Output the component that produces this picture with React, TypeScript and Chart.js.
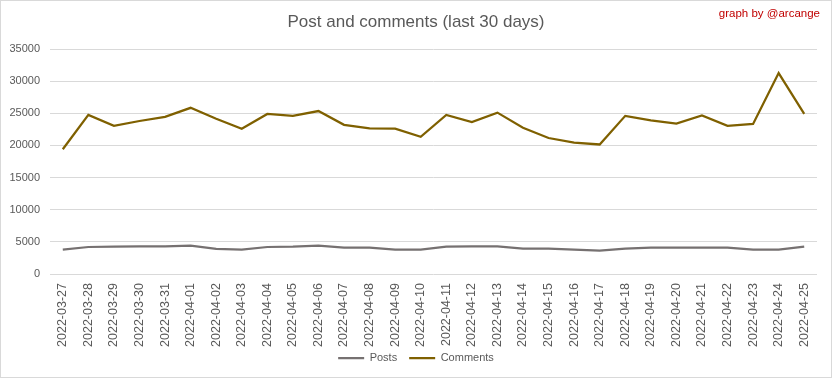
import React, { useEffect, useRef } from "react";
import { Chart, registerables } from "chart.js";

Chart.register(...registerables);

const dates = [
  "2022-03-27", "2022-03-28", "2022-03-29", "2022-03-30", "2022-03-31",
  "2022-04-01", "2022-04-02", "2022-04-03", "2022-04-04", "2022-04-05",
  "2022-04-06", "2022-04-07", "2022-04-08", "2022-04-09", "2022-04-10",
  "2022-04-11", "2022-04-12", "2022-04-13", "2022-04-14", "2022-04-15",
  "2022-04-16", "2022-04-17", "2022-04-18", "2022-04-19", "2022-04-20",
  "2022-04-21", "2022-04-22", "2022-04-23", "2022-04-24", "2022-04-25",
];

const posts = [
  3800, 4200, 4250, 4300, 4300, 4400, 3900, 3800, 4200, 4250,
  4400, 4100, 4100, 3800, 3800, 4250, 4300, 4300, 3950, 3950,
  3800, 3650, 3950, 4100, 4100, 4100, 4100, 3800, 3800, 4250,
];

const comments = [
  19400, 24750, 23050, 23800, 24450, 25850, 24150, 22600, 24900, 24600,
  25350, 23200, 22650, 22600, 21350, 24750, 23650, 25100, 22750, 21150,
  20450, 20150, 24600, 23900, 23400, 24650, 23050, 23350, 31250, 24900,
];

const yTicks = [0, 5000, 10000, 15000, 20000, 25000, 30000, 35000];

const chartTitle = "Post and comments (last 30 days)";
const credit = "graph by @arcange";

const FONT = "'Liberation Sans', Arial, sans-serif";

export default function App() {
  const ref = useRef<HTMLCanvasElement | null>(null);

  useEffect(() => {
    document.body.style.margin = "0";
    const canvas = ref.current;
    if (!canvas) return;

    const creditPlugin = {
      id: "credit",
      afterLayout(chart: any) {
        const lg = chart.legend;
        if (lg) {
          const h = lg.bottom - lg.top;
          lg.top = 339.5;
          lg.bottom = lg.top + h;
        }
      },
      afterDraw(chart: any) {
        const ctx = chart.ctx;
        ctx.save();
        ctx.font = `11.5px ${FONT}`;
        ctx.fillStyle = "#c00000";
        ctx.textAlign = "right";
        ctx.textBaseline = "middle";
        ctx.fillText(credit, 819, 13);
        ctx.restore();
      },
    };

    const chart = new Chart(canvas, {
      type: "line",
      data: {
        labels: dates,
        datasets: [
          {
            label: "Posts",
            data: posts,
            borderColor: "#767171",
            backgroundColor: "#767171",
            borderWidth: 2.25,
            pointRadius: 0,
            tension: 0,
          },
          {
            label: "Comments",
            data: comments,
            borderColor: "#7f6000",
            backgroundColor: "#7f6000",
            borderWidth: 2.25,
            pointRadius: 0,
            tension: 0,
          },
        ],
      },
      options: {
        responsive: false,
        animation: false,
        layout: { padding: { left: 0, right: 0, top: 0, bottom: -4 } },
        plugins: {
          title: {
            display: true,
            text: chartTitle,
            color: "#595959",
            font: { family: FONT, size: 17, weight: "normal" },
            padding: { top: 11, bottom: 16.6 },
          },
          legend: {
            position: "bottom",
            labels: {
              color: "#595959",
              font: { family: FONT, size: 11 },
              boxWidth: 26,
              boxHeight: 0,
              padding: 12,
            },
          },
          tooltip: { enabled: false },
        },
        scales: {
          x: {
            offset: true,
            afterFit(scale: any) {
              scale.height = 74;
            },
            grid: { display: false, drawTicks: false },
            border: { display: false },
            ticks: {
              color: "#595959",
              font: { family: FONT, size: 12.5 },
              minRotation: 90,
              maxRotation: 90,
              autoSkip: false,
              padding: 9,
            },
          },
          y: {
            min: 0,
            max: 35000,
            afterFit(scale: any) {
              scale.width = 49;
            },
            afterBuildTicks(scale: any) {
              scale.ticks = yTicks.map((v) => ({ value: v }));
            },
            grid: { color: "#d9d9d9", drawTicks: false, lineWidth: 1 },
            border: { display: false },
            ticks: {
              color: "#595959",
              font: { family: FONT, size: 11 },
              padding: 10,
              callback: (v: any) => String(v),
            },
          },
          yRight: {
            position: "right",
            display: true,
            afterFit(scale: any) {
              scale.width = 14;
            },
            grid: { display: false, drawTicks: false },
            border: { display: false },
            ticks: { display: false },
          },
        },
      },
      plugins: [creditPlugin],
    });

    return () => chart.destroy();
  }, []);

  return (
    <div
      style={{
        width: 832,
        height: 378,
        border: "1px solid #d9d9d9",
        boxSizing: "border-box",
        background: "#fff",
      }}
    >
      <canvas ref={ref} width={830} height={376} style={{ display: "block" }} />
    </div>
  );
}
